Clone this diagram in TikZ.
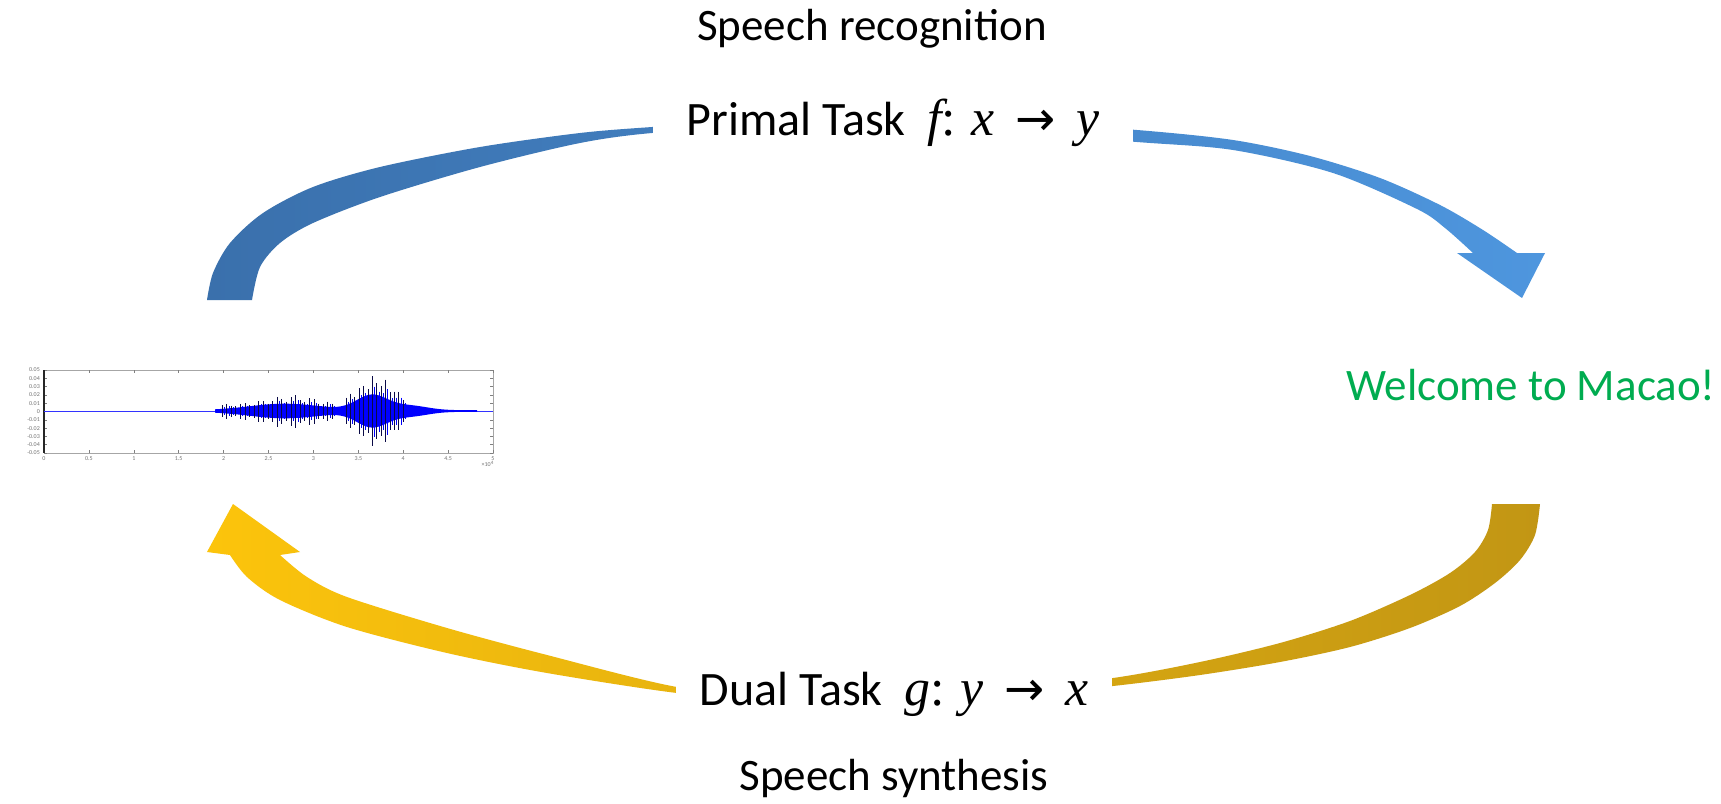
\documentclass[tikz,border=0pt]{standalone}
\usepackage{fontspec}
\setmainfont{Carlito}
\newfontfamily\varfont[Scale=1.08]{Liberation Serif}
\newfontfamily\arrowfont{DejaVu Sans}
\newcommand{\mapsym}[3]{{\varfont\itshape #1\upshape:\hspace{0.3em}\itshape #2\upshape\hspace{0.4em}{\arrowfont →}\hspace{0.4em}\itshape #3}}
\definecolor{bluedark}{RGB}{58,112,172}
\definecolor{bluelight}{RGB}{78,150,222}
\definecolor{goldbright}{RGB}{252,196,12}
\definecolor{golddark}{RGB}{194,150,20}
\definecolor{welcomegreen}{RGB}{0,172,80}
\definecolor{wavenavy}{RGB}{10,10,70}
\begin{document}
\begin{tikzpicture}[x=1pt,y=-1pt,
  declare function={
    F(\t)=0.8+6.5*exp(-((\t-285)/50)^2)+15*exp(-((\t-372)/22)^2)+4.5*exp(-((\t-410)/25)^2);
  },
  caption/.style={anchor=base, inner sep=0pt, font=\fontsize{45}{52}\selectfont},
  task/.style={anchor=base, fill=white, inner ysep=16pt,
    font=\fontsize{48}{54}\selectfont},
  axislbl/.style={font=\fontsize{6}{7}\selectfont, text=black!55, inner sep=0pt},
  loopblue/.style={left color=bluedark, right color=bluelight},
  loopgold/.style={left color=goldbright, right color=golddark},
]
\useasboundingbox[fill=white] (0,0) rectangle (1721,803);

% ---- upper (blue) curved arrow, from the waveform to the text ----
\shade[loopblue]
  plot[smooth, tension=0.5] coordinates {(207,300) (213,273) (230,243) (263,213)
    (313,187) (380,167) (480,147) (580,133) (652,127) (760,120) (867,118)
    (1000,121) (1137,130) (1233,140) (1310,156) (1380,178) (1440,205) (1483,230)
    (1517,253)}
  -- (1545,253) -- (1522,298) -- (1457,253) --
  plot[smooth, tension=0.5] coordinates {(1473,253) (1445,228) (1417,209)
    (1333,173) (1233,150) (1137,142) (1000,131) (867,126) (760,127) (652,133)
    (580,143) (480,167) (380,197) (313,223) (280,243) (260,267) (252,300)}
  -- cycle;

% ---- lower (gold) curved arrow, from the text back to the waveform ----
\shade[loopgold]
  plot[smooth, tension=0.5] coordinates {(1540,504) (1535,535) (1520,560)
    (1495,583) (1460,606) (1410,628) (1350,647) (1280,662) (1200,675)
    (1113,686) (1000,697) (880,704) (780,701) (677,693) (547,673) (447,653)
    (347,627) (280,600) (247,577) (230,555)}
  -- (207,552) -- (233,504) -- (300,552) --
  plot[smooth, tension=0.5] coordinates {(280,555) (307,577) (347,597)
    (447,628) (547,655) (677,687) (780,696) (880,698) (1000,690) (1113,678)
    (1200,662) (1280,643) (1350,621) (1410,595) (1450,573) (1475,552)
    (1488,530) (1492,504)}
  -- cycle;

% ---- labels ----
\node[caption] (rec) at (872,40) {Speech recognition};
\node[task, inner xsep=34pt] (primal) at (893,135)
  {Primal Task\hspace{0.45em}\mapsym{f}{x}{y}};
\node[task, inner xsep=24pt] (dual) at (894,705)
  {Dual Task\hspace{0.45em}\mapsym{g}{y}{x}};
\node[caption] (syn) at (894,790) {Speech synthesis};
\node[anchor=base, inner sep=0pt, text=welcomegreen,
  font=\fontsize{45}{50}\selectfont] (text) at (1531,400) {Welcome to Macao!};

% ---- speech waveform plot ----
\coordinate (wave) at (268,411);
\draw[black!35, line width=0.6] (44,370) rectangle (493,453);
\foreach \k in {0,...,10} {
  \pgfmathsetmacro\ty{370+8.3*\k}
  \draw[black!50, line width=0.5] (44,\ty) -- ++(3,0) (493,\ty) -- ++(-3,0);
  \pgfmathsetmacro\tx{44+44.9*\k}
  \draw[black!50, line width=0.5] (\tx,453) -- ++(0,-3) (\tx,370) -- ++(0,3);
}
\foreach \v [count=\k from 0] in {0.05,0.04,0.03,0.02,0.01,0,-0.01,-0.02,-0.03,-0.04,-0.05}
  \node[axislbl, anchor=east] at (40,370+8.3*\k) {\v};
\foreach \v [count=\k from 0] in {0,0.5,1,1.5,2,2.5,3,3.5,4,4.5,5}
  \node[axislbl, anchor=north] at (44+44.9*\k,456) {\v};
\node[axislbl, anchor=north east] at (494,461) {×10\textsuperscript{4}};
\draw[black!85, line width=1.6] (44,370) -- (44,453);
\draw[blue!80, line width=0.6] (44,411) -- (493,411);
\fill[blue]
  plot[domain=215:477, samples=140] (\x,{411-F(\x)})
  -- plot[domain=477:215, samples=140] (\x,{411+F(\x)}) -- cycle;
\foreach \k in {0,...,24} {
  \pgfmathsetmacro\sx{222+4.6*\k}
  \pgfmathsetmacro\sa{(7+9*exp(-((\sx-292)/32)^2))*(0.8+0.2*sin(97*\k))}
  \draw[wavenavy, line width=0.9] (\sx,411-\sa) -- (\sx,411+\sa*1.1);
  \draw[blue, line width=0.8] (\sx+2.3,411-0.7*\sa) -- (\sx+2.3,411+0.7*\sa);
}
\foreach \k in {0,...,13} {
  \pgfmathsetmacro\sx{346+4.4*\k}
  \pgfmathsetmacro\sa{(14+22*exp(-((\sx-376)/20)^2))*(0.82+0.18*sin(131*\k))}
  \draw[wavenavy, line width=1] (\sx,411-\sa) -- (\sx,411+\sa);
  \draw[blue, line width=1] (\sx+2.2,411-0.7*\sa) -- (\sx+2.2,411+0.75*\sa);
}
\end{tikzpicture}
\end{document}
